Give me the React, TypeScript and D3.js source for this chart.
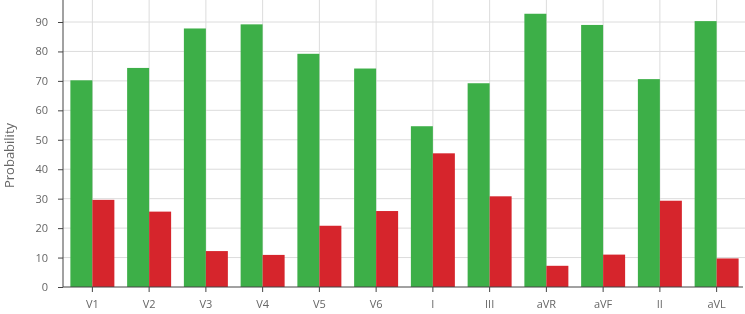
import React, { useRef, useEffect } from "react";
import * as d3 from "d3";

const leads = ["V1", "V2", "V3", "V4", "V5", "V6", "I", "III", "aVR", "aVF", "II", "aVL"];
const greenValues = [70.2, 74.4, 87.8, 89.2, 79.2, 74.2, 54.6, 69.2, 92.8, 89.0, 70.6, 90.3];
const redValues = [29.6, 25.6, 12.2, 10.9, 20.8, 25.8, 45.4, 30.8, 7.2, 11.0, 29.3, 9.7];
const yTicks = [0, 10, 20, 30, 40, 50, 60, 70, 80, 90];

const FONT = "'Open Sans', 'Noto Sans', sans-serif";

const App: React.FC = () => {
  const d3Container = useRef<HTMLDivElement>(null);

  useEffect(() => {
    const width = 745;
    const height = 314;
    const margin = { top: 0, right: 0, bottom: 27, left: 63 };

    d3.select(d3Container.current).selectChildren().remove();

    const svg = d3
      .select(d3Container.current)
      .append("svg")
      .attr("width", width)
      .attr("height", height)
      .style("display", "block");

    const x = d3
      .scaleBand<string>()
      .domain(leads)
      .range([margin.left + 1, width - margin.right])
      .paddingInner(0.225)
      .paddingOuter(0.1125);

    const inner = d3
      .scaleBand<string>()
      .domain(["g", "r"])
      .range([0, x.bandwidth()]);

    const y = d3
      .scaleLinear()
      .domain([0, 90])
      .range([height - margin.bottom, 22]);

    const g = svg.append("g");

    // Grid
    g.selectAll(".hgrid")
      .data(yTicks.filter((t) => t > 0))
      .enter()
      .append("line")
      .attr("x1", margin.left)
      .attr("x2", width)
      .attr("y1", (d) => y(d))
      .attr("y2", (d) => y(d))
      .attr("stroke", "#dcdcdc")
      .attr("stroke-width", 1);

    g.selectAll(".vgrid")
      .data(leads)
      .enter()
      .append("line")
      .attr("x1", (d) => x(d)! + x.bandwidth() / 2)
      .attr("x2", (d) => x(d)! + x.bandwidth() / 2)
      .attr("y1", 0)
      .attr("y2", y(0))
      .attr("stroke", "#dcdcdc")
      .attr("stroke-width", 1);

    // Bars
    g.selectAll(".gbar")
      .data(leads)
      .enter()
      .append("rect")
      .attr("x", (d) => x(d)! + inner("g")!)
      .attr("y", (d, i) => y(greenValues[i]))
      .attr("width", inner.bandwidth())
      .attr("height", (d, i) => y(0) - y(greenValues[i]))
      .attr("fill", "#3daf48");

    g.selectAll(".rbar")
      .data(leads)
      .enter()
      .append("rect")
      .attr("x", (d) => x(d)! + inner("r")!)
      .attr("y", (d, i) => y(redValues[i]))
      .attr("width", inner.bandwidth())
      .attr("height", (d, i) => y(0) - y(redValues[i]))
      .attr("fill", "#d6252c");

    // Axes
    const xAxis = g
      .append("g")
      .attr("transform", `translate(0,${y(0)})`)
      .call(d3.axisBottom(x).tickSize(5).tickSizeOuter(0).tickPadding(8));
    xAxis.attr("font-family", FONT);
    xAxis.select(".domain").attr("stroke", "#444").attr("d", `M${margin.left},0H${width - 2}`);
    xAxis.selectAll(".tick line").attr("stroke", "#444");
    xAxis
      .selectAll(".tick text")
      .attr("fill", "#666")
      .style("font-family", FONT)
      .style("font-size", "11px");

    const yAxis = g
      .append("g")
      .attr("transform", `translate(${margin.left},0)`)
      .call(d3.axisLeft(y).tickValues(yTicks).tickSize(5).tickSizeOuter(0).tickPadding(10));
    yAxis.attr("font-family", FONT);
    yAxis.select(".domain").attr("stroke", "#444").attr("d", `M0,0V${y(0)}`);
    yAxis.selectAll(".tick line").attr("stroke", "#444");
    yAxis
      .selectAll(".tick text")
      .attr("fill", "#666")
      .style("font-family", FONT)
      .style("font-size", "11px");

    svg
      .append("text")
      .attr("transform", `translate(14,${y(0) / 2 + 12}) rotate(-90)`)
      .attr("text-anchor", "middle")
      .attr("fill", "#666")
      .style("font-family", FONT)
      .style("font-size", "13px")
      .text("Probability");
  }, []);

  return (
    <div style={{ position: "fixed", left: 0, top: 0 }}>
      <div ref={d3Container} />
    </div>
  );
};

export default App;
